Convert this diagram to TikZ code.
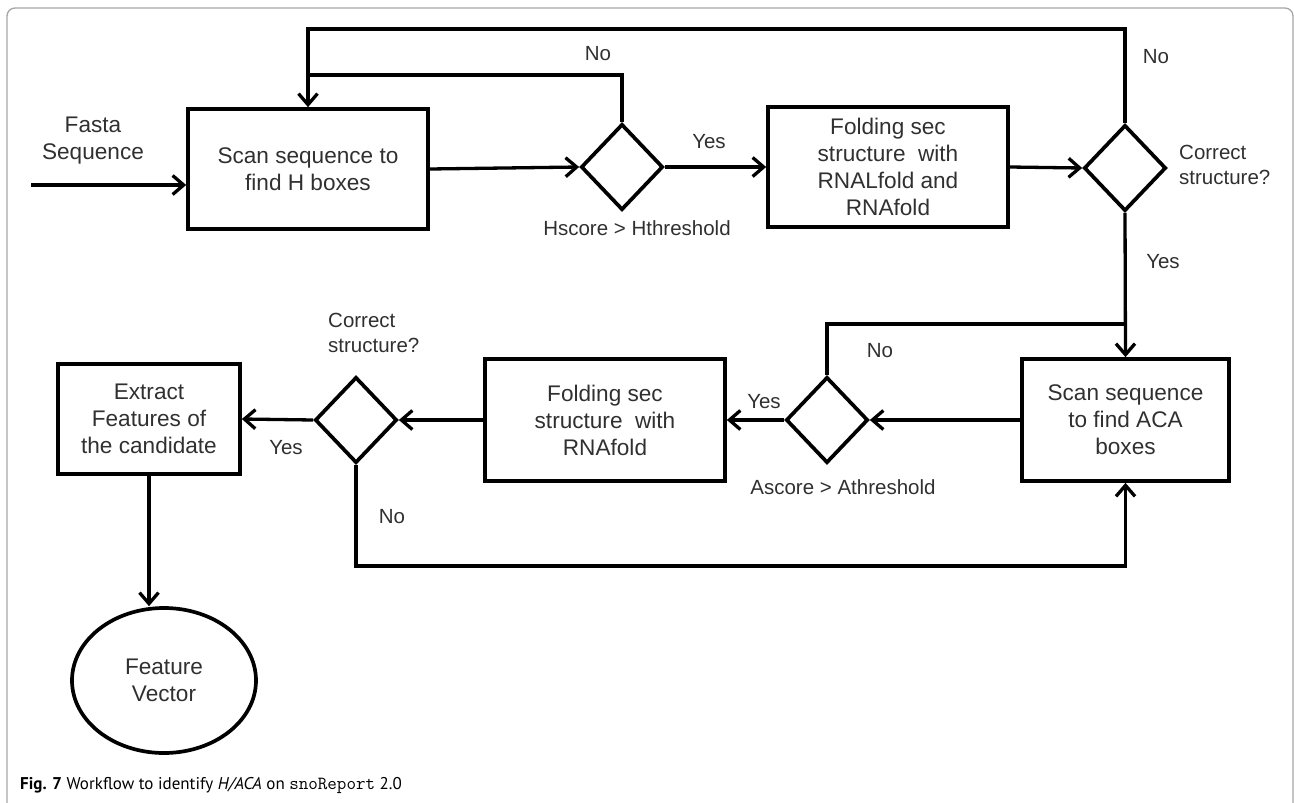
\documentclass[tikz,border=0pt]{standalone}
\usepackage{fontspec}
\setmainfont{Liberation Sans}
\newfontfamily\capfont{PT Sans}
\usetikzlibrary{arrows.meta,shapes.geometric}
\definecolor{txt}{HTML}{303030}
\newcommand{\boxfont}{\fontsize{22.6}{27}\selectfont}
\newcommand{\lblfont}{\fontsize{20.5}{25}\selectfont}
\begin{document}
\begin{tikzpicture}[x=1pt,y=-1pt,
  ln/.style={line width=3.3pt, draw=black, line join=miter},
  arr/.style={ln, -{Straight Barb[length=11pt,width=19pt]}},
  box/.style={draw, line width=3.7pt, rectangle, inner sep=0pt, align=center,
              font=\boxfont, text=txt},
  dec/.style={draw, line width=3.7pt, diamond, inner sep=0pt,
              minimum width=82pt, minimum height=86pt},
  lbl/.style={font=\lblfont, text=txt, inner sep=0pt, align=left}
]
\useasboundingbox (0,0) rectangle (1294,803);

% page frame, open at the bottom
\draw[gray!70, line width=1.3pt, rounded corners=8pt]
  (7,803) -- (7,8) -- (1293,8) -- (1293,803);

% process boxes
\node[box, minimum width=240pt, minimum height=120pt] (scanH) at (308,169)
  {Scan sequence to\\find H boxes};
\node[box, minimum width=240pt, minimum height=120pt] (foldL) at (888,167)
  {Folding sec\\structure\ \ with\\RNALfold and\\RNAfold};
\node[box, minimum width=207pt, minimum height=122pt] (scanA) at (1125.5,420)
  {Scan sequence\\to find ACA\\boxes};
\node[box, minimum width=240pt, minimum height=122pt] (fold) at (605,420)
  {Folding sec\\structure\ \ with\\RNAfold};
\node[box, minimum width=182pt, minimum height=110pt] (feat) at (149,419)
  {Extract\\Features of\\the candidate};
\node[draw, line width=3.7pt, ellipse, inner sep=0pt, minimum width=184pt,
      minimum height=145pt, align=center, font=\boxfont, text=txt]
  (vec) at (164,680.5) {Feature\\Vector};

% decisions
\node[dec] (dH) at (622,167) {};
\node[dec] (dS1) at (1125,168) {};
\node[dec] (dA) at (827,420) {};
\node[dec] (dS2) at (356,420) {};

% routing points
\coordinate (in) at (31,185);
\coordinate (topL) at (308,29);
\coordinate (midL) at (308,75);
\coordinate (joinA) at (1125.5,324);
\coordinate (bot) at (1125.5,566);

% connectors
\draw[arr] (in) -- (in -| scanH.west);
\draw[arr] (scanH.east) -- (dH.west);
\draw[arr] (dH.east) -- (foldL.west);
\draw[ln] (dH.north) |- (midL);
\draw[arr] (dS1.north) |- (topL) -- (scanH.north);
\draw[arr] (foldL.east) -- (dS1.west);
\draw[arr] (dS1.south) -- (scanA.north);
\draw[ln] (dA.north) |- (joinA);
\draw[arr] (scanA.west) -- (dA.east);
\draw[arr] (dA.west) -- (fold.east);
\draw[arr] (fold.west) -- (dS2.east);
\draw[arr] (dS2.west) -- (feat.east);
\draw[arr] (dS2.south) |- (bot) -- (scanA.south);
\draw[arr] (feat.south) -- (feat.south |- vec.north);

% labels
\node[box, draw=none] (fasta) at (93,140.5) {Fasta\\Sequence};
\node[lbl] (noH) at (598,54) {No};
\node[lbl] (noS1) at (1156,57) {No};
\node[lbl] (yesH) at (709,142) {Yes};
\node[lbl] (hsc) at (637,228) {Hscore > Hthreshold};
\node[lbl, anchor=west] (cs1) at (1179,164.5) {Correct\\structure?};
\node[lbl] (yesS1) at (1163,262) {Yes};
\node[lbl] (noA) at (880,351) {No};
\node[lbl] (yesA) at (764,402) {Yes};
\node[lbl] (asc) at (843,487) {Ascore > Athreshold};
\node[lbl, anchor=west] (cs2) at (328,332.5) {Correct\\structure?};
\node[lbl] (yesS2) at (286,448) {Yes};
\node[lbl] (noS2) at (392,517) {No};

% caption
\node[anchor=base west, inner sep=0pt, font=\capfont\fontsize{17}{21}\selectfont]
  (cap) at (20,789)
  {\textbf{Fig. 7} Workflow to identify \textit{H/ACA} on
   {\ttfamily\fontsize{18.5}{21}\selectfont snoReport} 2.0};
\end{tikzpicture}
\end{document}
